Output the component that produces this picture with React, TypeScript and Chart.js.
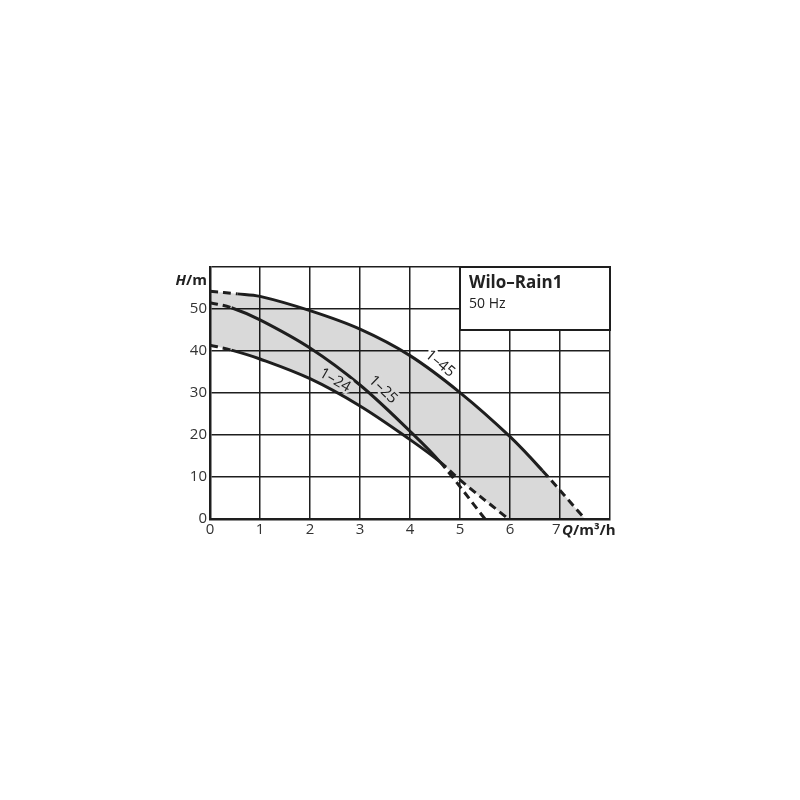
import React, { useEffect, useRef } from 'react';
import { Chart, registerables } from 'chart.js';

Chart.register(...registerables);

// Axis ticks
const qTicks = [0, 1, 2, 3, 4, 5, 6, 7];
const hTicks = [0, 10, 20, 30, 40, 50];

// Curve 1-45
const q145 = [0, 0.55, 1, 2, 3, 4, 5, 6, 6.65, 7.5];
const h145 = [54.2, 53.6, 53.0, 49.6, 45.2, 38.9, 30.1, 19.6, 11.5, 0];
const solid145 = [1, 8];
// Curve 1-25
const q125 = [0, 0.43, 1, 2, 3, 4, 4.6, 5.5];
const h125 = [51.5, 50.3, 47.4, 40.7, 31.9, 20.9, 13.6, 0];
const solid125 = [1, 6];
// Curve 1-24
const q124 = [0, 0.43, 1, 2, 3, 4, 4.6, 5.0, 5.97];
const h124 = [41.4, 40.2, 38.1, 33.4, 26.9, 18.9, 13.6, 9.3, 0];
const solid124 = [1, 6];

const curveNames = ['1–45', '1–25', '1–24'];

const INK = '#1e1e1e';

function makeDataset(name: string, q: number[], h: number[], solid: number[]) {
  return {
    label: name,
    data: q.map((x, i) => ({ x, y: h[i] })),
    borderColor: INK,
    borderWidth: 3,
    pointRadius: 0,
    fill: false,
    tension: 0.35,
    segment: {
      borderDash: (ctx: any) =>
        ctx.p0DataIndex < solid[0] || ctx.p0DataIndex >= solid[1] ? [8, 5] : undefined,
    },
  };
}

const overlay = {
  id: 'overlay',
  beforeDatasetsDraw(chart: any) {
    const { ctx, chartArea } = chart;
    const top = chart.getDatasetMeta(0).data;
    const bot = chart.getDatasetMeta(2).data;
    ctx.save();
    ctx.beginPath();
    ctx.rect(chartArea.left, chartArea.top, chartArea.right - chartArea.left, chartArea.bottom - chartArea.top);
    ctx.clip();
    ctx.beginPath();
    ctx.moveTo(top[0].x, top[0].y);
    for (let i = 1; i < top.length; i++) {
      const p = top[i - 1];
      const c = top[i];
      if (p.cp2x !== undefined && c.cp1x !== undefined) ctx.bezierCurveTo(p.cp2x, p.cp2y, c.cp1x, c.cp1y, c.x, c.y);
      else ctx.lineTo(c.x, c.y);
    }
    ctx.lineTo(bot[bot.length - 1].x, bot[bot.length - 1].y);
    for (let i = bot.length - 1; i > 0; i--) {
      const c = bot[i];
      const p = bot[i - 1];
      if (p.cp2x !== undefined && c.cp1x !== undefined) ctx.bezierCurveTo(c.cp1x, c.cp1y, p.cp2x, p.cp2y, p.x, p.y);
      else ctx.lineTo(p.x, p.y);
    }
    ctx.closePath();
    ctx.fillStyle = 'rgba(0,0,0,0.15)';
    ctx.fill();
    ctx.restore();
  },
  afterDatasetsDraw(chart: any) {
    const { ctx, chartArea, scales } = chart;
    const xs = scales.x;
    const ys = scales.y;
    ctx.save();

    // Curve labels
    const labels = [
      { text: curveNames[0], q: 4.6, h: 37.0, angle: 40, halo: '#ffffff' },
      { text: curveNames[1], q: 3.46, h: 30.8, angle: 44, halo: '#d9d9d9' },
      { text: curveNames[2], q: 2.5, h: 33.0, angle: 30, halo: '#d9d9d9' },
    ];
    ctx.font = '15px "Open Sans"';
    ctx.textAlign = 'center';
    ctx.textBaseline = 'middle';
    labels.forEach((l) => {
      ctx.save();
      ctx.translate(xs.getPixelForValue(l.q), ys.getPixelForValue(l.h));
      ctx.rotate((l.angle * Math.PI) / 180);
      ctx.lineWidth = 5;
      ctx.lineJoin = 'round';
      ctx.strokeStyle = l.halo;
      ctx.strokeText(l.text, 0, 0);
      ctx.fillStyle = INK;
      ctx.fillText(l.text, 0, 0);
      ctx.restore();
    });

    // Title box
    const bx = xs.getPixelForValue(5);
    const by = ys.getPixelForValue(45);
    ctx.fillStyle = '#ffffff';
    ctx.fillRect(bx, chartArea.top, chartArea.right - bx, by - chartArea.top);
    ctx.strokeStyle = INK;
    ctx.lineWidth = 2;
    ctx.strokeRect(bx, chartArea.top, chartArea.right - bx, by - chartArea.top);
    ctx.fillStyle = '#222';
    ctx.textAlign = 'left';
    ctx.textBaseline = 'alphabetic';
    ctx.font = 'bold 17px "Open Sans"';
    ctx.fillText('Wilo–Rain1', bx + 9, chartArea.top + 21);
    ctx.font = '14px "Open Sans"';
    ctx.fillText('50 Hz', bx + 9, chartArea.top + 41);

    // Axis titles
    ctx.font = 'bold 15px "Open Sans"';
    ctx.textAlign = 'right';
    const hx = chartArea.left - 3;
    const hy = chartArea.top + 18;
    ctx.fillText('/m', hx, hy);
    const w = ctx.measureText('/m').width;
    ctx.font = 'italic bold 15px "Open Sans"';
    ctx.fillText('H', hx - w, hy);

    ctx.textAlign = 'left';
    const qx = xs.getPixelForValue(7) + 2;
    const qy = chartArea.bottom + 16;
    ctx.font = 'italic bold 15px "Open Sans"';
    ctx.fillText('Q', qx, qy);
    const wq = ctx.measureText('Q').width;
    ctx.font = 'bold 15px "Open Sans"';
    ctx.fillText('/m³/h', qx + wq, qy);

    ctx.restore();
  },
};

export default function App() {
  const ref = useRef<HTMLCanvasElement | null>(null);
  useEffect(() => {
    if (!ref.current) return;
    const chart = new Chart(ref.current, {
      type: 'line',
      data: {
        datasets: [
          makeDataset(curveNames[0], q145, h145, solid145),
          makeDataset(curveNames[1], q125, h125, solid125),
          makeDataset(curveNames[2], q124, h124, solid124),
        ],
      },
      options: {
        responsive: false,
        animation: false,
        events: [],
        layout: { padding: { left: 170, right: 190, top: 267, bottom: 251 } },
        plugins: { legend: { display: false }, tooltip: { enabled: false } },
        scales: {
          x: {
            type: 'linear',
            min: 0,
            max: 8,
            afterBuildTicks: (s: any) => {
              s.ticks = [...qTicks, 8].map((v) => ({ value: v }));
            },
            afterFit: (s: any) => {
              s.height = 30;
            },
            ticks: {
              callback: (v: any) =>
                qTicks.includes(v) ? (v === qTicks[qTicks.length - 1] ? String(v) + '\u2002' : String(v)) : '',
              font: { family: '"Open Sans"', size: 15 },
              color: '#333',
              padding: 2,
              maxRotation: 0,
            },
            grid: { color: INK, lineWidth: 1.5, drawTicks: false },
            border: { color: INK, width: 2.5 },
          },
          y: {
            type: 'linear',
            min: 0,
            max: 60,
            afterBuildTicks: (s: any) => {
              s.ticks = [...hTicks, 60].map((v) => ({ value: v }));
            },
            afterFit: (s: any) => {
              s.width = 40;
            },
            ticks: {
              callback: (v: any) => (hTicks.includes(v) ? String(v) : ''),
              font: { family: '"Open Sans"', size: 15 },
              color: '#333',
              padding: 3,
            },
            grid: { color: INK, lineWidth: 1.5, drawTicks: false },
            border: { color: INK, width: 2.5 },
          },
        },
      },
      plugins: [overlay],
    } as any);
    return () => chart.destroy();
  }, []);
  return (
    <div style={{ position: 'absolute', left: 0, top: 0, width: 800, height: 800, background: '#fff' }}>
      <canvas ref={ref} width={800} height={800} style={{ display: 'block' }} />
    </div>
  );
}
